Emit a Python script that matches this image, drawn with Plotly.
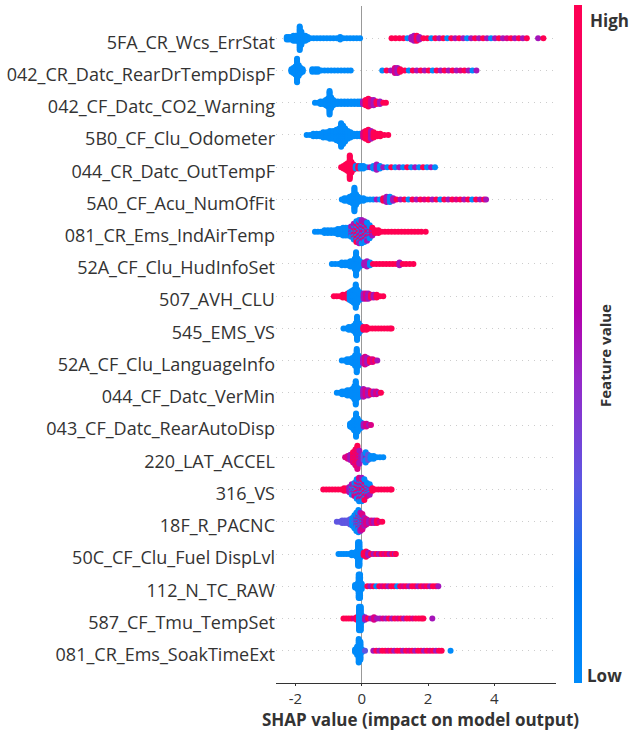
import math
from collections import defaultdict
import plotly.graph_objects as go

# ---------------- data ----------------
FEATURES = [
    "5FA_CR_Wcs_ErrStat", "042_CR_Datc_RearDrTempDispF", "042_CF_Datc_CO2_Warning",
    "5B0_CF_Clu_Odometer", "044_CR_Datc_OutTempF", "5A0_CF_Acu_NumOfFit",
    "081_CR_Ems_IndAirTemp", "52A_CF_Clu_HudInfoSet", "507_AVH_CLU", "545_EMS_VS",
    "52A_CF_Clu_LanguageInfo", "044_CF_Datc_VerMin", "043_CF_Datc_RearAutoDisp",
    "220_LAT_ACCEL", "316_VS", "18F_R_PACNC", "50C_CF_Clu_Fuel DispLvl",
    "112_N_TC_RAW", "587_CF_Tmu_TempSet", "081_CR_Ems_SoakTimeExt",
]

# feature-value level of a point: B=low (blue) ... R=high (red)
LEVELS = {"B": 0.0, "V": 0.3, "P": 0.5, "M": 0.72, "R": 1.0}

# (SHAP value, number of samples in that bin, feature-value level)
F01 = [(-2.26,3,"B"),(-2.20,3,"B"),(-2.13,3,"B"),(-2.06,5,"B"),(-1.99,5,"B"),(-1.93,5,"B"),(-1.87,19,"B"),
       (-1.82,11,"B"),(-1.76,5,"B"),(-1.70,5,"B"),(-1.63,3,"B"),(-1.55,1,"B"),(-1.45,1,"B"),(-1.35,1,"B"),
       (-1.25,1,"B"),(-1.15,1,"B"),(-1.05,1,"B"),(-0.95,1,"B"),(-0.85,1,"B"),(-0.75,1,"B"),(-0.65,3,"B"),
       (-0.55,1,"B"),(-0.45,1,"B"),(-0.35,1,"B"),(-0.25,1,"B"),(-0.15,1,"B"),(-0.05,1,"B"),
       (0.90,1,"R"),(1.02,1,"R"),(1.14,1,"R"),(1.26,1,"R"),(1.38,1,"B"),(1.50,3,"P"),(1.58,5,"P"),(1.66,5,"R"),
       (1.74,3,"P"),(1.86,1,"R"),(1.98,1,"R"),(2.10,1,"B"),(2.22,1,"R"),(2.34,1,"P"),(2.46,1,"R"),(2.58,1,"B"),
       (2.70,1,"R"),(2.82,1,"P"),(2.94,1,"R"),(3.06,1,"P"),(3.18,1,"B"),(3.30,1,"P"),(3.42,1,"R"),(3.54,1,"P"),
       (3.66,1,"R"),(3.78,1,"P"),(3.90,1,"B"),(4.02,1,"P"),(4.14,1,"R"),(4.26,1,"P"),(4.38,1,"M"),(4.50,1,"R"),
       (4.62,1,"P"),(4.74,1,"R"),(4.86,1,"P"),(4.98,1,"R"),(5.32,1,"P"),(5.48,1,"R")]
F02 = [(-2.12,3,"B"),(-2.06,5,"B"),(-2.00,7,"B"),(-1.95,19,"B"),(-1.90,9,"B"),(-1.84,5,"B"),(-1.78,3,"B"),
       (-1.49,3,"B"),(-1.40,3,"B"),(-1.32,3,"B"),(-1.22,1,"B"),(-1.12,1,"B"),(-1.02,1,"B"),(-0.92,1,"B"),
       (-0.82,1,"B"),(-0.72,1,"B"),(-0.62,1,"B"),(-0.52,1,"B"),(-0.42,1,"B"),(-0.33,1,"B"),
       (0.62,1,"B"),(0.75,1,"R"),(0.88,1,"P"),(1.00,5,"M"),(1.08,5,"P"),(1.16,3,"R"),(1.30,1,"R"),(1.42,1,"B"),
       (1.54,1,"R"),(1.66,1,"P"),(1.78,1,"R"),(1.90,1,"P"),(2.02,1,"R"),(2.14,1,"B"),(2.26,1,"R"),(2.38,1,"P"),
       (2.50,1,"R"),(2.62,1,"P"),(2.74,1,"R"),(2.86,1,"P"),(2.98,1,"M"),(3.10,1,"R"),(3.22,1,"P"),(3.34,1,"B"),
       (3.46,1,"P")]
F03 = [(-1.41,1,"B"),(-1.32,1,"B"),(-1.24,3,"B"),(-1.16,3,"B"),(-1.08,5,"B"),(-1.02,7,"B"),(-0.97,19,"B"),
       (-0.92,9,"B"),(-0.86,5,"B"),(-0.80,3,"B"),(-0.72,3,"B"),(-0.62,3,"B"),(-0.52,3,"B"),(-0.42,3,"B"),
       (-0.32,3,"B"),(-0.22,3,"B"),(-0.12,3,"B"),(-0.04,3,"B"),
       (0.04,3,"P"),(0.12,5,"R"),(0.20,7,"R"),(0.28,5,"M"),(0.36,5,"P"),(0.45,3,"R"),(0.55,3,"P"),(0.65,1,"R"),
       (0.73,1,"R")]
F04 = [(-1.66,1,"B"),(-1.56,1,"B"),(-1.46,3,"B"),(-1.36,3,"B"),(-1.26,3,"B"),(-1.16,5,"B"),(-1.06,5,"B"),
       (-0.96,7,"B"),(-0.86,7,"B"),(-0.76,9,"B"),(-0.68,11,"B"),(-0.62,19,"B"),(-0.56,15,"B"),(-0.50,11,"B"),
       (-0.42,7,"B"),(-0.34,5,"B"),(-0.24,3,"B"),(-0.14,3,"B"),(-0.05,3,"B"),
       (0.05,5,"M"),(0.12,7,"R"),(0.20,9,"R"),(0.28,7,"P"),(0.36,5,"R"),(0.46,3,"R"),(0.56,3,"R"),(0.68,1,"R"),
       (0.80,1,"R")]
F05 = [(-0.62,1,"R"),(-0.55,3,"R"),(-0.48,5,"R"),(-0.42,7,"R"),(-0.36,19,"R"),(-0.31,9,"R"),(-0.25,5,"R"),
       (-0.18,3,"B"),(-0.10,3,"R"),(-0.03,3,"B"),
       (0.05,3,"B"),(0.15,1,"B"),(0.25,1,"P"),(0.35,3,"B"),(0.45,5,"P"),(0.55,3,"B"),(0.65,1,"P"),(0.77,1,"B"),
       (0.89,1,"R"),(1.01,1,"B"),(1.13,1,"P"),(1.25,1,"B"),(1.37,1,"R"),(1.49,1,"B"),(1.61,1,"P"),(1.73,1,"B"),
       (1.85,1,"R"),(1.97,1,"B"),(2.09,1,"P"),(2.21,1,"B")]
F06 = [(-0.60,1,"B"),(-0.52,3,"B"),(-0.44,3,"B"),(-0.36,5,"B"),(-0.28,7,"B"),(-0.22,19,"B"),(-0.17,9,"B"),
       (-0.11,5,"B"),(-0.04,3,"B"),
       (0.05,3,"B"),(0.15,1,"B"),(0.25,1,"B"),(0.35,1,"B"),(0.45,1,"P"),(0.55,1,"B"),(0.65,3,"R"),(0.75,5,"P"),
       (0.85,5,"B"),(0.95,3,"P"),(1.05,1,"R"),(1.17,1,"P"),(1.29,1,"R"),(1.41,1,"B"),(1.53,1,"R"),(1.65,1,"P"),
       (1.77,1,"R"),(1.89,1,"M"),(2.01,1,"R"),(2.13,1,"P"),(2.25,1,"R"),(2.37,1,"B"),(2.49,1,"R"),(2.61,1,"P"),
       (2.73,1,"R"),(2.85,1,"M"),(2.97,1,"R"),(3.09,1,"P"),(3.21,1,"R"),(3.33,1,"B"),(3.45,1,"R"),(3.57,1,"P"),
       (3.69,1,"R"),(3.75,1,"P")]
F07 = [(-1.41,1,"B"),(-1.32,1,"B"),(-1.22,1,"B"),(-1.12,3,"B"),(-1.02,3,"B"),(-0.92,3,"B"),(-0.82,3,"B"),
       (-0.72,5,"B"),(-0.64,5,"B"),(-0.56,7,"B"),(-0.48,7,"B"),(-0.40,7,"B"),
       (-0.32,5,"B"),(-0.32,4,"P"),(-0.24,5,"P"),(-0.24,5,"B"),(-0.24,3,"R"),(-0.16,6,"M"),(-0.16,6,"B"),
       (-0.16,5,"R"),(-0.08,7,"P"),(-0.08,6,"R"),(-0.08,6,"B"),(0.00,7,"B"),(0.00,6,"M"),(0.00,6,"P"),
       (0.08,6,"R"),(0.08,6,"P"),(0.08,5,"B"),(0.16,6,"B"),(0.16,4,"R"),(0.16,5,"P"),(0.24,5,"M"),(0.24,6,"B"),
       (0.32,4,"R"),(0.32,3,"P"),
       (0.40,3,"R"),(0.50,3,"R"),(0.60,1,"R"),(0.70,1,"R"),(0.80,1,"R"),(0.90,1,"R"),(1.00,1,"R"),(1.10,1,"R"),
       (1.20,1,"R"),(1.30,1,"R"),(1.40,1,"R"),(1.50,1,"R"),(1.60,1,"R"),(1.70,1,"R"),(1.80,1,"R"),(1.93,1,"R")]
F08 = [(-0.90,1,"B"),(-0.80,1,"B"),(-0.70,1,"B"),(-0.60,3,"B"),(-0.50,3,"B"),(-0.42,3,"B"),(-0.34,5,"B"),
       (-0.27,5,"B"),(-0.21,9,"B"),(-0.17,19,"B"),(-0.12,9,"B"),(-0.06,5,"B"),(0.00,3,"B"),
       (0.08,3,"P"),(0.16,5,"P"),(0.25,3,"B"),(0.34,1,"R"),(0.44,1,"R"),(0.54,1,"R"),(0.64,1,"R"),(0.74,1,"R"),
       (0.84,1,"R"),(0.94,1,"R"),(1.04,1,"R"),(1.14,3,"P"),(1.24,1,"R"),(1.34,1,"R"),(1.45,1,"R"),(1.56,1,"R")]
F09 = [(-0.84,1,"R"),(-0.75,1,"R"),(-0.66,1,"R"),(-0.57,3,"R"),(-0.49,3,"R"),(-0.42,5,"R"),
       (-0.36,7,"B"),(-0.30,9,"B"),(-0.24,11,"B"),(-0.18,19,"B"),(-0.13,11,"B"),(-0.07,7,"B"),(-0.01,5,"B"),
       (0.06,5,"P"),(0.13,5,"M"),(0.20,5,"P"),(0.28,3,"R"),(0.36,3,"P"),(0.45,3,"R"),(0.55,1,"R"),(0.65,1,"R")]
F10 = [(-0.55,1,"B"),(-0.47,1,"B"),(-0.39,3,"B"),(-0.31,3,"B"),(-0.24,5,"B"),(-0.18,9,"B"),(-0.14,19,"B"),
       (-0.09,9,"B"),(-0.03,5,"B"),
       (0.05,3,"R"),(0.14,3,"R"),(0.23,1,"R"),(0.32,1,"R"),(0.41,1,"R"),(0.50,1,"R"),(0.59,1,"R"),(0.68,1,"R"),
       (0.77,1,"R"),(0.85,1,"R"),(0.90,1,"R")]
F11 = [(-0.60,1,"B"),(-0.52,1,"B"),(-0.44,3,"B"),(-0.36,3,"B"),(-0.28,5,"B"),(-0.20,9,"B"),(-0.15,19,"B"),
       (-0.10,9,"B"),(-0.04,5,"B"),
       (0.04,5,"P"),(0.10,7,"M"),(0.17,5,"P"),(0.25,3,"R"),(0.33,3,"M"),(0.41,1,"R"),(0.47,1,"P")]
F12 = [(-0.75,1,"B"),(-0.67,1,"B"),(-0.59,3,"B"),(-0.51,3,"B"),(-0.43,5,"B"),(-0.35,5,"B"),(-0.28,7,"B"),
       (-0.22,11,"B"),(-0.18,19,"B"),(-0.13,9,"B"),(-0.07,7,"B"),(-0.02,5,"B"),
       (0.05,7,"P"),(0.12,5,"M"),(0.20,5,"P"),(0.28,3,"R"),(0.36,3,"P"),(0.44,3,"M"),(0.52,1,"P"),(0.58,1,"R")]
F13 = [(-0.35,3,"B"),(-0.29,5,"B"),(-0.23,9,"B"),(-0.17,19,"B"),(-0.12,11,"B"),(-0.07,7,"B"),(-0.02,5,"B"),
       (0.06,3,"P"),(0.14,3,"M"),(0.22,1,"P"),(0.28,1,"M")]
F14 = [(-0.50,1,"M"),(-0.42,3,"M"),(-0.34,5,"P"),(-0.26,5,"M"),(-0.26,4,"R"),(-0.19,7,"M"),(-0.19,6,"R"),
       (-0.13,10,"R"),(-0.13,9,"M"),(-0.07,7,"P"),(-0.07,4,"R"),(-0.01,5,"P"),
       (0.06,5,"V"),(0.12,7,"B"),(0.12,2,"P"),(0.19,5,"V"),(0.27,3,"B"),(0.36,3,"B"),(0.45,1,"B"),(0.55,1,"B"),
       (0.65,1,"B")]
F15 = [(-1.16,1,"R"),(-1.07,1,"R"),(-0.98,1,"R"),(-0.89,1,"R"),(-0.80,1,"R"),(-0.71,1,"R"),(-0.62,1,"R"),
       (-0.53,3,"R"),(-0.44,3,"R"),(-0.37,5,"P"),
       (-0.30,5,"B"),(-0.30,4,"P"),(-0.22,6,"B"),(-0.22,5,"M"),(-0.15,6,"P"),(-0.15,6,"B"),(-0.15,4,"R"),
       (-0.08,7,"B"),(-0.08,6,"P"),(-0.08,6,"M"),(0.00,7,"B"),(0.00,6,"R"),(0.00,6,"P"),(0.08,6,"P"),
       (0.08,6,"B"),(0.08,5,"R"),(0.16,6,"B"),(0.16,5,"M"),(0.24,5,"P"),(0.24,4,"B"),
       (0.32,3,"R"),(0.41,1,"R"),(0.50,1,"R"),(0.59,1,"R"),(0.68,1,"R"),(0.77,1,"R"),(0.86,1,"R"),(0.90,1,"R")]
F16 = [(-0.75,1,"V"),(-0.67,1,"V"),(-0.59,3,"V"),(-0.51,3,"V"),(-0.43,3,"V"),(-0.35,5,"V"),
       (-0.28,7,"B"),(-0.22,9,"B"),(-0.22,2,"V"),(-0.16,11,"B"),(-0.16,4,"P"),(-0.10,12,"B"),(-0.10,6,"M"),
       (-0.04,9,"P"),(-0.04,6,"B"),(0.02,9,"M"),(0.02,4,"B"),(0.08,7,"P"),(0.14,5,"M"),
       (0.22,3,"P"),(0.30,3,"M"),(0.38,3,"P"),(0.46,3,"R"),(0.54,1,"M"),(0.62,1,"R")]
F17 = [(-0.70,1,"B"),(-0.62,1,"B"),(-0.54,1,"B"),(-0.46,1,"B"),(-0.38,1,"B"),(-0.30,3,"B"),(-0.22,3,"B"),
       (-0.15,5,"B"),(-0.11,19,"B"),(-0.07,19,"B"),(-0.02,5,"B"),
       (0.06,3,"R"),(0.13,5,"R"),(0.20,3,"P"),(0.28,1,"R"),(0.36,1,"P"),(0.44,1,"R"),(0.52,1,"P"),(0.60,1,"R"),
       (0.68,1,"M"),(0.76,1,"R"),(0.84,1,"P"),(0.92,1,"R"),(1.00,1,"P"),(1.03,1,"R")]
F18 = [(-0.20,3,"B"),(-0.13,5,"B"),(-0.09,19,"B"),(-0.05,19,"B"),(0.00,5,"B"),
       (0.17,1,"R"),(0.26,1,"P"),(0.35,1,"R"),(0.44,1,"B"),(0.53,1,"R"),(0.62,1,"M"),(0.71,1,"R"),(0.80,1,"P"),
       (0.89,1,"R"),(0.98,1,"R"),(1.07,1,"B"),(1.16,1,"R"),(1.25,1,"M"),(1.34,1,"R"),(1.43,1,"P"),(1.52,1,"R"),
       (1.61,1,"R"),(1.70,1,"P"),(1.79,1,"R"),(1.88,1,"M"),(1.97,1,"R"),(2.06,1,"P"),(2.15,1,"R"),(2.24,1,"R"),
       (2.31,1,"P")]
F19 = [(-0.55,1,"R"),(-0.47,1,"R"),(-0.39,1,"R"),(-0.31,1,"R"),(-0.23,1,"M"),(-0.15,3,"R"),
       (-0.08,19,"B"),(-0.03,19,"B"),(0.02,5,"B"),
       (0.10,3,"P"),(0.19,1,"R"),(0.28,1,"P"),(0.37,3,"M"),(0.46,1,"P"),(0.55,1,"P"),(0.64,1,"M"),(0.73,1,"P"),
       (0.82,1,"R"),(0.91,1,"P"),(1.00,1,"R"),(1.09,1,"M"),(1.18,1,"R"),(1.27,1,"P"),(1.36,1,"R"),(1.45,1,"R"),
       (1.54,1,"M"),(1.63,1,"R"),(1.72,1,"R"),(1.80,1,"R"),(1.86,1,"R"),(2.13,1,"P")]
F20 = [(-0.20,3,"B"),(-0.14,7,"B"),(-0.09,19,"B"),(-0.04,15,"B"),(0.01,3,"B"),(0.10,1,"V"),
       (0.35,1,"P"),(0.44,1,"R"),(0.53,1,"P"),(0.62,1,"R"),(0.71,1,"R"),(0.80,1,"M"),(0.89,1,"R"),(0.98,1,"P"),
       (1.07,1,"R"),(1.16,1,"R"),(1.25,1,"P"),(1.34,1,"R"),(1.43,1,"M"),(1.52,1,"R"),(1.61,1,"P"),(1.70,1,"R"),
       (1.79,1,"R"),(1.88,1,"P"),(1.97,1,"R"),(2.06,1,"M"),(2.15,1,"R"),(2.24,1,"P"),(2.33,1,"R"),(2.41,1,"R"),
       (2.68,1,"B")]

SAMPLES = [F01, F02, F03, F04, F05, F06, F07, F08, F09, F10,
           F11, F12, F13, F14, F15, F16, F17, F18, F19, F20]

X_TICKS = [-2, 0, 2, 4]

# ---------------- layout constants ----------------
W, H = 634, 731
M_L, M_R, M_T, M_B = 276, 78, 6, 48
PLOT_W = W - M_L - M_R
PLOT_H = H - M_T - M_B
N = len(FEATURES)
Y_RANGE = [-1, N]
ROW_PX = PLOT_H / (Y_RANGE[1] - Y_RANGE[0])
DY = 1.3 / ROW_PX   # vertical step between stacked markers (beeswarm)

SHAP_SCALE = [
    [0.00, "rgb(0,139,250)"],
    [0.15, "rgb(0,118,242)"],
    [0.30, "rgb(95,85,225)"],
    [0.45, "rgb(150,40,200)"],
    [0.55, "rgb(180,0,170)"],
    [0.75, "rgb(226,0,128)"],
    [1.00, "rgb(255,0,82)"],
]

xs, ys, cs = [], [], []
for i, pts in enumerate(SAMPLES):
    row = N - 1 - i
    groups = defaultdict(list)
    order = []
    for x, n, lvl in pts:
        key = round(x, 3)
        if key not in groups:
            order.append(key)
        groups[key].append([x, n, lvl])
    for key in order:
        entries = [list(e) for e in groups[key]]
        seq = []
        # interleave the levels of a bin in pairs so mixed bins look speckled
        while any(e[1] > 0 for e in entries):
            for e in entries:
                take = min(2, e[1])
                seq.extend([(e[0], e[2])] * take)
                e[1] -= take
        for k, (x, lvl) in enumerate(seq):
            off = math.ceil(k / 2) * (1 if k % 2 else -1)
            xs.append(x)
            ys.append(row + off * DY)
            cs.append(LEVELS[lvl])

fig = go.Figure()
fig.add_trace(go.Scatter(
    x=xs, y=ys, mode="markers",
    marker=dict(
        size=6, color=cs, colorscale=SHAP_SCALE, cmin=0, cmax=1,
        line=dict(width=0),
        showscale=True,
        colorbar=dict(
            thickness=8, thicknessmode="pixels",
            len=678, lenmode="pixels",
            x=(574 - M_L) / PLOT_W, xanchor="left", xpad=0,
            y=0.5, yanchor="middle", ypad=0,
            outlinewidth=0, showticklabels=False, ticks="",
        ),
    ),
    hoverinfo="skip", showlegend=False,
))

FONT = "'Open Sans', 'Noto Sans', Roboto, Arial, sans-serif"
TXT = "#333333"

fig.update_layout(
    width=W, height=H,
    margin=dict(l=M_L, r=M_R, t=M_T, b=M_B, autoexpand=False),
    paper_bgcolor="white", plot_bgcolor="white",
    font=dict(family=FONT, color=TXT, size=16),
    xaxis=dict(
        range=[-2.585, 5.86], tickvals=X_TICKS, ticktext=[str(v) for v in X_TICKS],
        showgrid=False, zeroline=True, zerolinecolor="#999999", zerolinewidth=1.2,
        showline=True, linecolor=TXT, linewidth=1,
        ticks="outside", ticklen=2, tickcolor=TXT,
        tickfont=dict(size=15, color=TXT, family=FONT),
    ),
    yaxis=dict(
        range=Y_RANGE, tickvals=list(range(N - 1, -1, -1)), ticktext=FEATURES,
        showgrid=True, gridcolor="#cccccc", gridwidth=1, griddash="1px,5px",
        zeroline=False, showline=False, ticks="", ticklabelshift=4,
        tickfont=dict(size=18, color=TXT, family=FONT),
    ),
    annotations=[
        dict(text="<b>SHAP value (impact on model output)</b>", xref="paper", yref="paper",
             x=(420 - M_L) / PLOT_W, y=-(719.5 - (H - M_B)) / PLOT_H,
             xanchor="center", yanchor="middle", showarrow=False,
             font=dict(size=17, color=TXT, family=FONT)),
        dict(text="<b>High</b>", xref="paper", yref="paper",
             x=(588 - M_L) / PLOT_W, y=1 - (21 - M_T) / PLOT_H,
             xanchor="left", yanchor="middle", showarrow=False,
             font=dict(size=17, color=TXT, family=FONT)),
        dict(text="<b>Low</b>", xref="paper", yref="paper",
             x=(585 - M_L) / PLOT_W, y=1 - (675 - M_T) / PLOT_H,
             xanchor="left", yanchor="middle", showarrow=False,
             font=dict(size=17, color=TXT, family=FONT)),
        dict(text="<b>Feature value</b>", xref="paper", yref="paper",
             x=(605 - M_L) / PLOT_W, y=1 - (356 - M_T) / PLOT_H,
             xanchor="center", yanchor="middle", showarrow=False, textangle=-90,
             font=dict(size=15, color=TXT, family=FONT)),
    ],
)

fig.write_html("out.html", config={"displayModeBar": False},
               post_script="document.body.style.margin='0px';")
